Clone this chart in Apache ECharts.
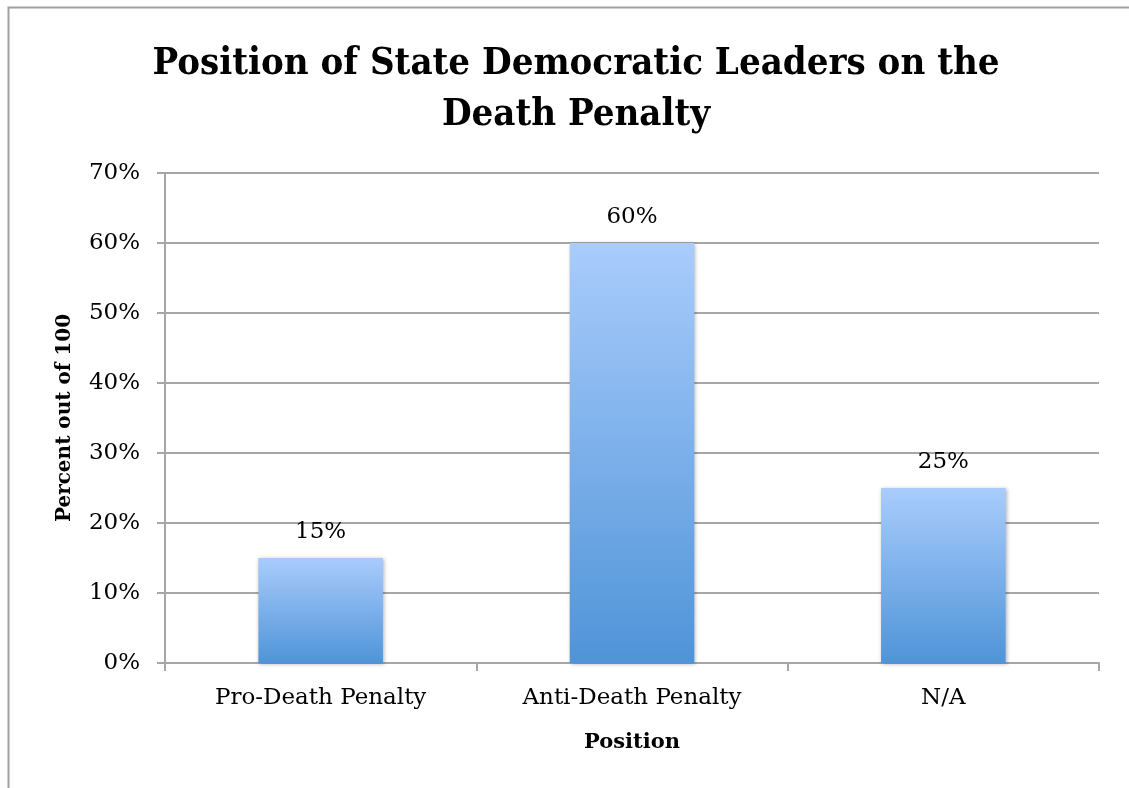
<!DOCTYPE html>
<html>
<head>
<meta charset="utf-8">
<script src="https://cdn.jsdelivr.net/npm/echarts@6/dist/echarts.min.js"></script>
<style>
html,body{margin:0;padding:0;background:#fff;}
#main{width:1129px;height:788px;}
</style>
</head>
<body>
<div id="main"></div>
<script>
var categories = ['Pro-Death Penalty', 'Anti-Death Penalty', 'N/A'];
var values = [15, 60, 25];
var yTicks = { min: 0, max: 70, interval: 10 };

var chart = echarts.init(document.getElementById('main'));
var gray = '#a6a6a6';
chart.setOption({
  backgroundColor: '#ffffff',
  animation: false,
  title: {
    text: 'Position of State Democratic Leaders on the\nDeath Penalty',
    left: 571,
    textAlign: 'center',
    top: 34,
    textStyle: {
      fontFamily: "'DejaVu Serif Condensed', 'DejaVu Serif'",
      fontWeight: 'bold',
      fontSize: 38,
      lineHeight: 51,
      color: '#000'
    }
  },
  graphic: [{
    type: 'polyline',
    shape: { points: [[8.5, 788], [8.5, 7.5], [1129, 7.5]] },
    style: { stroke: '#a0a0a0', lineWidth: 2, fill: null }
  }],
  grid: { left: 165, right: 30, top: 173, bottom: 125 },
  xAxis: {
    type: 'category',
    data: categories,
    name: 'Position',
    nameLocation: 'middle',
    nameGap: 69,
    nameTextStyle: { fontFamily: 'DejaVu Serif', fontWeight: 'bold', fontSize: 21, color: '#000' },
    axisLine: { show: true, lineStyle: { color: gray, width: 2 } },
    axisTick: { show: true, length: 8, lineStyle: { color: gray, width: 2 } },
    axisLabel: { margin: 24, fontFamily: 'DejaVu Serif', fontSize: 23, color: '#000' }
  },
  yAxis: {
    type: 'value',
    min: yTicks.min,
    max: yTicks.max,
    interval: yTicks.interval,
    name: 'Percent out of 100',
    nameLocation: 'middle',
    nameGap: 90,
    nameTextStyle: { fontFamily: 'DejaVu Serif', fontWeight: 'bold', fontSize: 20, color: '#000' },
    axisLine: { show: true, lineStyle: { color: gray, width: 2 } },
    axisTick: { show: true, length: 8, lineStyle: { color: gray, width: 2 } },
    axisLabel: { margin: 25, fontFamily: 'DejaVu Serif', fontSize: 23, color: '#000', formatter: '{value}%' },
    splitLine: { show: true, lineStyle: { color: gray, width: 2 } }
  },
  series: [{
    type: 'bar',
    data: values,
    barWidth: '40%',
    itemStyle: {
      color: new echarts.graphic.LinearGradient(0, 0, 0, 1, [
        { offset: 0, color: '#a9ccfc' },
        { offset: 1, color: '#4f94d8' }
      ]),
      shadowBlur: 4,
      shadowColor: 'rgba(0,0,0,0.3)',
      shadowOffsetX: 1,
      shadowOffsetY: 1
    },
    label: {
      show: true,
      position: 'top',
      distance: 14,
      formatter: '{c}%',
      fontFamily: 'DejaVu Serif',
      fontSize: 23,
      color: '#000'
    }
  }]
});
</script>
</body>
</html>
